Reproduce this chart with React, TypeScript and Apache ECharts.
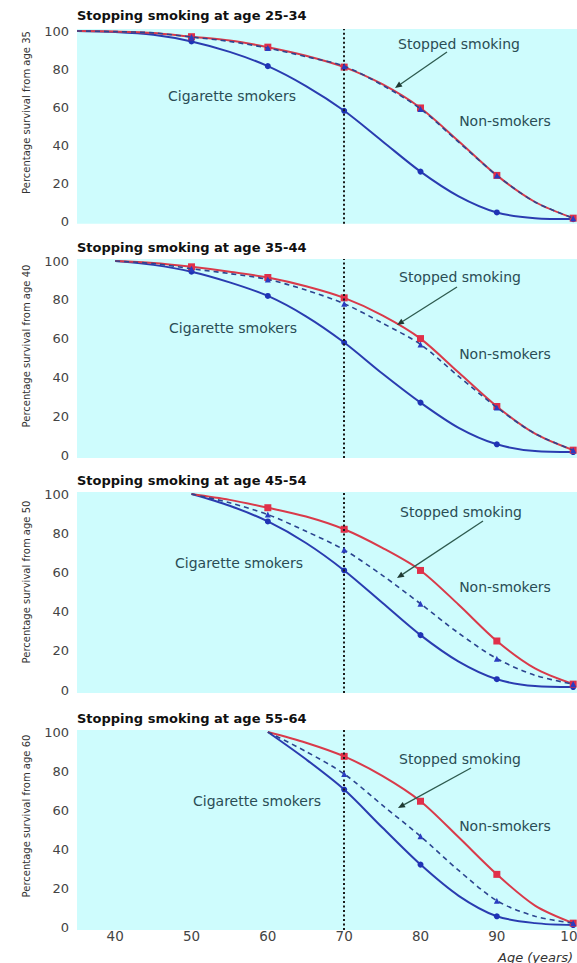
import React, { useEffect, useRef } from "react";
import * as echarts from "echarts";

// ---------- data ----------
const PANEL_TITLES = [
  "Stopping smoking at age 25-34",
  "Stopping smoking at age 35-44",
  "Stopping smoking at age 45-54",
  "Stopping smoking at age 55-64",
];
const Y_NAMES = [
  "Percentage survival from age 35",
  "Percentage survival from age 40",
  "Percentage survival from age 50",
  "Percentage survival from age 60",
];
const X_TICKS = [40, 50, 60, 70, 80, 90, 100];
const Y_TICKS = [0, 20, 40, 60, 80, 100];
const MARK_AGES = [50, 60, 70, 80, 90, 100];
const QUIT_LINE_AGE = 70;

const AGES_P1 = [35, 40, 45, 50, 55, 60, 65, 70, 75, 80, 85, 90, 95, 100];
const NON_P1 = [100, 99.7, 99, 97, 95, 91.5, 87, 81, 72, 59.5, 42, 24, 10, 1.5];
const SMOKERS_P1 = [100, 99.5, 98, 94.5, 89, 81.5, 71, 58, 42, 26, 13, 4.5, 1.5, 1];
const STOPPED_P1 = [100, 99.7, 99, 96.8, 94.5, 91, 86.5, 81.5, 71.5, 59, 41.5, 24, 10, 1.5];

const AGES_P2 = [40, 45, 50, 55, 60, 65, 70, 75, 80, 85, 90, 95, 100];
const NON_P2 = [100, 99, 97, 94.5, 91.5, 87, 81, 72, 60, 42.5, 25, 11, 2.5];
const SMOKERS_P2 = [100, 98, 94.5, 89, 82, 71.5, 58, 42, 27, 14, 5.5, 2, 1.5];
const STOPPED_P2 = [100, 98.7, 96, 93.5, 90.5, 85, 78, 68, 57, 40.5, 24.5, 11, 2.5];

const AGES_P3 = [50, 55, 60, 65, 70, 75, 80, 85, 90, 95, 100];
const NON_P3 = [100, 97, 93, 88.5, 82, 72.5, 61, 43.5, 25, 11, 3];
const SMOKERS_P3 = [100, 94, 86, 75, 61, 44.5, 28, 14.5, 5.5, 2, 1.5];
const STOPPED_P3 = [100, 95.5, 89.5, 81, 71.5, 58.5, 44, 29, 16, 7.5, 3];

const AGES_P4 = [60, 65, 70, 75, 80, 85, 90, 95, 100];
const NON_P4 = [100, 94.5, 87.5, 77.5, 64.5, 46, 27, 11, 2];
const SMOKERS_P4 = [100, 86, 70.5, 51, 32, 16, 5.5, 2, 1];
const STOPPED_P4 = [100, 90, 78.5, 62.5, 46.5, 29, 13.5, 5.5, 2];

const PANELS = [
  { ages: AGES_P1, non: NON_P1, smokers: SMOKERS_P1, stopped: STOPPED_P1 },
  { ages: AGES_P2, non: NON_P2, smokers: SMOKERS_P2, stopped: STOPPED_P2 },
  { ages: AGES_P3, non: NON_P3, smokers: SMOKERS_P3, stopped: STOPPED_P3 },
  { ages: AGES_P4, non: NON_P4, smokers: SMOKERS_P4, stopped: STOPPED_P4 },
];

// ---------- layout ----------
const GRID_LEFT = 77;
const GRID_WIDTH = 500;
const GRID_BOXES = [
  { top: 29.1, height: 194.75 },
  { top: 259.06, height: 198.85 },
  { top: 492.04, height: 200.9 },
  { top: 730.05, height: 199.9 },
];
const TITLE_Y = [15, 247, 480, 718];
const YNAME_Y = [112.5, 346, 582, 816];
const LABELS_LAYOUT = [
  { stopped: [459, 44], non: [505, 121], cig: [232, 96], arrow: [447, 52, 395, 88] },
  { stopped: [460, 277], non: [505, 354], cig: [233, 328], arrow: [457, 287, 397, 325] },
  { stopped: [461, 512], non: [505, 587], cig: [239, 563], arrow: [483, 521, 397, 578] },
  { stopped: [460, 759], non: [505, 826], cig: [257, 801], arrow: [471, 768, 398, 808] },
];

const FONT = '"DejaVu Sans", "Noto Sans", sans-serif';
const NOTE_COLOR = "#2a4d55";
const ARROW_COLOR = "#2d5a4e";
const RED = "#d93a4a";
const BLUE = "#2a3cb0";
const DASH = "#2c4590";

function buildData(ages: number[], vals: number[], symbol: string) {
  return ages.map((a, j) => ({
    value: [a, vals[j]],
    symbol: j > 0 && MARK_AGES.includes(a) ? symbol : "none",
  }));
}

function arrowGraphics(x1: number, y1: number, x2: number, y2: number) {
  const dx = x2 - x1;
  const dy = y2 - y1;
  const len = Math.sqrt(dx * dx + dy * dy);
  const ux = dx / len;
  const uy = dy / len;
  const hl = 7;
  const hw = 3;
  const bx = x2 - ux * hl;
  const by = y2 - uy * hl;
  const nx = -uy;
  const ny = ux;
  return [
    {
      type: "line",
      shape: { x1, y1, x2: bx, y2: by },
      style: { stroke: ARROW_COLOR, lineWidth: 1.3 },
      z: 100,
    },
    {
      type: "polygon",
      shape: {
        points: [
          [x2, y2],
          [bx + nx * hw, by + ny * hw],
          [bx - nx * hw, by - ny * hw],
        ],
      },
      style: { fill: "#1f3a33" },
      z: 100,
    },
  ];
}

function buildOption() {
  const grid: any[] = [];
  const xAxis: any[] = [];
  const yAxis: any[] = [];
  const series: any[] = [];
  const graphic: any[] = [];

  PANELS.forEach((p, i) => {
    grid.push({
      left: GRID_LEFT,
      width: GRID_WIDTH,
      top: GRID_BOXES[i].top,
      height: GRID_BOXES[i].height,
      show: true,
      backgroundColor: "#cefcfd",
      borderWidth: 0,
      containLabel: false,
      outerBoundsMode: "none",
    });
    xAxis.push({
      type: "value",
      gridIndex: i,
      min: 35,
      max: 100.5,
      axisLine: { show: false },
      axisTick: { show: false },
      splitLine: { show: false },
      axisLabel: {
        show: i === 3,
        customValues: X_TICKS,
        fontSize: 13.5,
        fontFamily: FONT,
        color: "#444",
        margin: -1,
        showMaxLabel: true,
        showMinLabel: true,
        hideOverlap: false,
      },
    });
    yAxis.push({
      type: "value",
      gridIndex: i,
      min: -1.5,
      max: 101,
      axisLine: { show: false },
      axisTick: { show: false },
      splitLine: { show: false },
      axisLabel: {
        customValues: Y_TICKS,
        fontSize: 13,
        fontFamily: FONT,
        color: "#444",
        margin: 8,
      },
    });
    series.push({
      type: "line",
      name: "Cigarette smokers",
      xAxisIndex: i,
      yAxisIndex: i,
      smooth: 0.3,
      data: buildData(p.ages, p.smokers, "circle"),
      symbolSize: 6,
      lineStyle: { color: BLUE, width: 2 },
      itemStyle: { color: "#1f33b5" },
      z: 3,
      markLine: {
        silent: true,
        symbol: ["none", "none"],
        label: { show: false },
        lineStyle: { type: [2, 2.5], color: "#1a1a1a", width: 2 },
        data: [{ xAxis: QUIT_LINE_AGE }],
      },
    });
    series.push({
      type: "line",
      name: "Non-smokers",
      xAxisIndex: i,
      yAxisIndex: i,
      smooth: 0.3,
      data: buildData(p.ages, p.non, "rect"),
      symbolSize: 7,
      lineStyle: { color: RED, width: 2 },
      itemStyle: { color: "#e0304a" },
      z: 4,
    });
    series.push({
      type: "line",
      name: "Stopped smoking",
      xAxisIndex: i,
      yAxisIndex: i,
      smooth: 0.3,
      data: buildData(p.ages, p.stopped, "triangle"),
      symbolSize: 6,
      lineStyle: { color: DASH, width: 1.6, type: [5, 4] },
      itemStyle: { color: "#2a3cc0" },
      z: 5,
    });

    graphic.push({
      type: "text",
      x: GRID_LEFT,
      y: TITLE_Y[i],
      style: {
        text: PANEL_TITLES[i],
        fontFamily: FONT,
        fontWeight: "bold",
        fontSize: 13,
        fill: "#111",
        align: "left",
        verticalAlign: "middle",
      },
    });
    graphic.push({
      type: "text",
      x: 26,
      y: YNAME_Y[i],
      rotation: Math.PI / 2,
      style: {
        text: Y_NAMES[i],
        fontFamily: FONT,
        fontSize: 10,
        fill: "#333",
        align: "center",
        verticalAlign: "middle",
      },
    });
    const L = LABELS_LAYOUT[i];
    const note = (t: string, pos: number[]) => ({
      type: "text",
      x: pos[0],
      y: pos[1],
      z: 100,
      style: {
        text: t,
        fontFamily: FONT,
        fontSize: 14,
        fill: NOTE_COLOR,
        align: "center",
        verticalAlign: "middle",
      },
    });
    graphic.push(note("Stopped smoking", L.stopped));
    graphic.push(note("Non-smokers", L.non));
    graphic.push(note("Cigarette smokers", L.cig));
    graphic.push(...arrowGraphics(L.arrow[0], L.arrow[1], L.arrow[2], L.arrow[3]));
  });

  graphic.push({
    type: "text",
    x: 498,
    y: 957,
    style: {
      text: "Age (years)",
      fontFamily: FONT,
      fontStyle: "italic",
      fontSize: 13,
      fill: "#333",
      align: "left",
      verticalAlign: "middle",
    },
  });

  return {
    animation: false,
    backgroundColor: "#ffffff",
    grid,
    xAxis,
    yAxis,
    series,
    graphic,
  };
}

export default function App() {
  const ref = useRef<HTMLDivElement>(null);
  useEffect(() => {
    document.body.style.margin = "0";
    if (!ref.current) return;
    const chart = echarts.init(ref.current, null, { renderer: "svg" });
    chart.setOption(buildOption() as any);
    return () => {
      chart.dispose();
    };
  }, []);
  return <div ref={ref} style={{ width: 577, height: 963 }} />;
}
